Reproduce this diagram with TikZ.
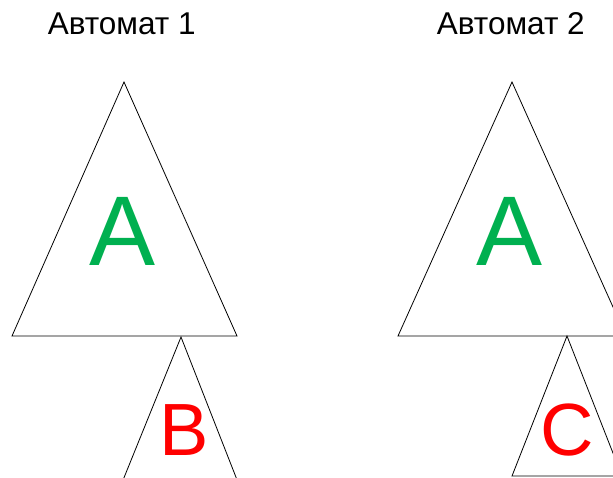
\documentclass[tikz,border=0pt]{standalone}
\usepackage{fontspec}
\setmainfont{Liberation Sans}
\definecolor{leafgreen}{HTML}{00B050}
\definecolor{leafred}{HTML}{FF0000}
\begin{document}
\begin{tikzpicture}[x=1pt,y=-1pt,
  tri/.style={draw=black,line width=0.8pt,line join=miter},
  title/.style={font=\fontsize{31.5}{33}\selectfont,text=black,inner sep=0pt},
  biglabel/.style={font=\fontsize{99}{100}\selectfont,text=leafgreen,inner sep=0pt},
  smalllabel/.style={font=\fontsize{74}{76}\selectfont,text=leafred,inner sep=0pt}]
  \useasboundingbox (0,0) rectangle (613,477);
  \clip (0,0) rectangle (613,477);
  \fill[white] (0,0) rectangle (613,477);

  % first automaton: subtree A with subtree B below
  \node[title] (t1) at (121.7,24) {Автомат 1};
  \draw[tri] (124,82) -- (237,336) -- (12,336) -- cycle;
  \draw[tri] (181,337) -- (241,490) -- (119,490) -- cycle;
  \node[biglabel] (a1) at (123,231) {A};
  \node[smalllabel] (b1) at (184.5,430.5) {B};

  % second automaton: subtree A with subtree C below
  \node[title] (t2) at (510.8,24) {Автомат 2};
  \draw[tri] (512,82) -- (626,336) -- (398,336) -- cycle;
  \draw[tri] (567,336) -- (622,476) -- (512,476) -- cycle;
  \node[biglabel] (a2) at (510,231) {A};
  \node[smalllabel] (c2) at (567,430) {C};
\end{tikzpicture}
\end{document}
